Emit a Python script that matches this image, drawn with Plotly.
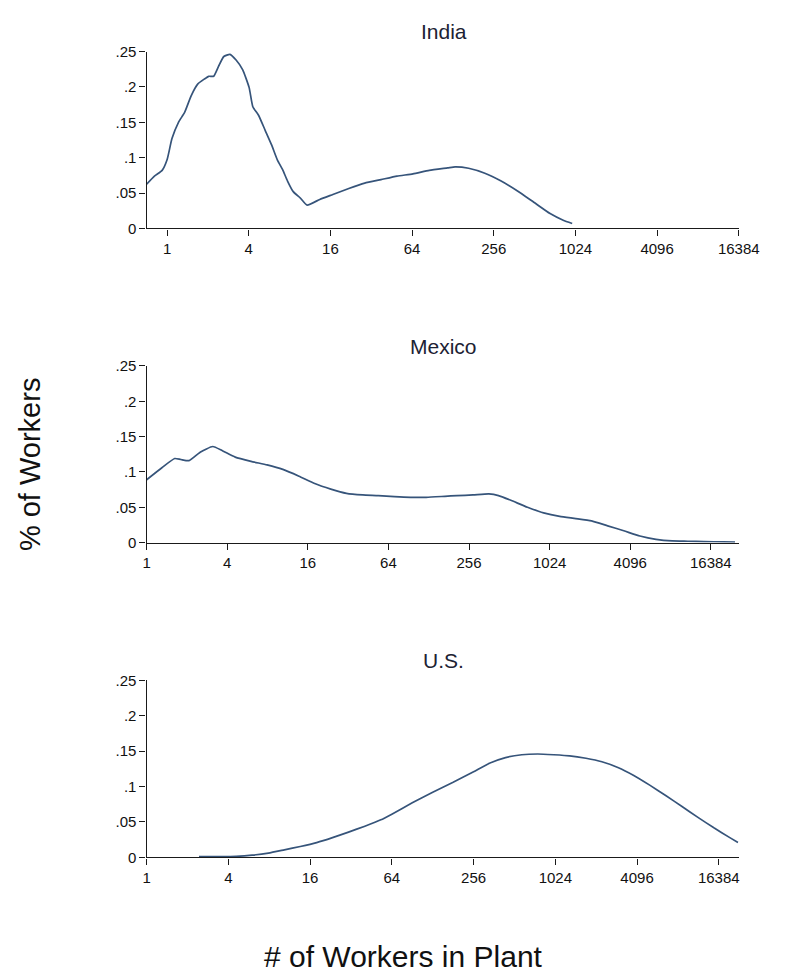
import math
import plotly.graph_objects as go

# ---------------- data ----------------
india_workers = [0.707, 0.807, 0.92, 1.0, 1.087, 1.214, 1.347, 1.505, 1.682, 1.879,
                 2.028, 2.204, 2.395, 2.621, 2.908, 3.227, 3.605, 4.028, 4.287, 4.724,
                 5.278, 5.897, 6.498, 7.111, 7.727, 8.514, 9.646, 10.78, 13.36, 16.68,
                 21.86, 28.64, 37.79, 49.52, 64.9, 85.6, 117, 133, 167, 220, 290, 383,
                 505, 666, 832, 969]
india_share = [0.0625, 0.074, 0.082, 0.097, 0.127, 0.150, 0.164, 0.1875, 0.204, 0.211,
               0.215, 0.215, 0.229, 0.243, 0.246, 0.238, 0.2245, 0.199, 0.172, 0.160,
               0.139, 0.118, 0.097, 0.083, 0.067, 0.052, 0.0426, 0.033, 0.041, 0.048,
               0.0565, 0.064, 0.069, 0.074, 0.077, 0.082, 0.0855, 0.087, 0.085, 0.078,
               0.067, 0.053, 0.037, 0.021, 0.0116, 0.007]

mexico_workers = [1.0, 1.30, 1.62, 1.80, 2.07, 2.51, 3.12, 3.68, 4.59, 6.02, 7.94,
                  10.41, 13.74, 18.0, 23.75, 31.1, 41.1, 53.8, 71.0, 93.7, 122.8,
                  168.9, 208, 274, 360, 425, 530, 699, 923, 1218, 1607, 2105, 2778,
                  3665, 4837, 6382, 8422, 11036, 14563, 20306, 24834]
mexico_share = [0.089, 0.106, 0.119, 0.1176, 0.116, 0.128, 0.136, 0.130, 0.121, 0.115,
                0.110, 0.1036, 0.094, 0.0836, 0.0757, 0.0697, 0.0674, 0.0665, 0.065,
                0.064, 0.064, 0.0655, 0.0665, 0.0674, 0.0688, 0.0665, 0.0595, 0.050,
                0.042, 0.037, 0.034, 0.0307, 0.0237, 0.0167, 0.0093, 0.0046, 0.0023,
                0.0019, 0.0014, 0.0009, 0.0006]

us_workers = [2.43, 3.48, 4.56, 5.98, 7.89, 10.34, 13.55, 17.88, 23.4, 30.7, 40.5,
              53.1, 64.0, 90.5, 128, 181, 256, 335, 440, 580, 760, 996, 1305, 1722,
              2256, 2957, 3875, 5077, 6700, 8780, 11505, 15075, 19755, 22690]
us_share = [0.001, 0.001, 0.0014, 0.003, 0.006, 0.0106, 0.0153, 0.0208, 0.0278, 0.0356,
            0.044, 0.053, 0.061, 0.077, 0.092, 0.106, 0.121, 0.133, 0.141, 0.145,
            0.146, 0.145, 0.1435, 0.140, 0.135, 0.127, 0.1157, 0.102, 0.087, 0.0718,
            0.0565, 0.0417, 0.0278, 0.0208]

panel_titles = ["India", "Mexico", "U.S."]
x_tick_vals = [1, 4, 16, 64, 256, 1024, 4096, 16384]
x_tick_text = ["1", "4", "16", "64", "256", "1024", "4096", "16384"]
y_tick_vals = [0, 0.05, 0.1, 0.15, 0.2, 0.25]
y_tick_text = ["0", ".05", ".1", ".15", ".2", ".25"]
x_ranges_workers = [(0.7071, 16384), (1, 26500), (1, 23000)]

# ---------------- layout geometry (pixels) ----------------
W, H = 790, 979
LEFT, RIGHT = 147.3, 758.8
panel_px = [(43.3, 223.3), (363.3, 543.0), (683.3, 863.3)]  # (top, bottom)

FONT = "Liberation Sans, Arial, sans-serif"
LINE = "#36547a"
AX = "#1a1a1a"

fig = go.Figure()
series = [(india_workers, india_share), (mexico_workers, mexico_share), (us_workers, us_share)]
annotations = []
for i, (xs, ys) in enumerate(series):
    n = "" if i == 0 else str(i + 1)
    fig.add_trace(go.Scatter(x=xs, y=ys, mode="lines", xaxis="x" + n, yaxis="y" + n,
                             line=dict(color=LINE, width=1.7, shape="spline", smoothing=0.5),
                             showlegend=False, hoverinfo="skip"))
    top, bot = panel_px[i]
    lo, hi = x_ranges_workers[i]
    xa = dict(type="log", range=[math.log10(lo), math.log10(hi)],
              domain=[LEFT / W, RIGHT / W], anchor="y" + n,
              tickvals=x_tick_vals, ticktext=x_tick_text,
              ticks="outside", ticklen=6, tickwidth=1.3, tickcolor=AX,
              showline=True, linecolor=AX, linewidth=1.4, showgrid=False,
              zeroline=False, tickfont=dict(family=FONT, size=15, color="#111"))
    ya = dict(range=[0, 0.25], domain=[1 - bot / H, 1 - top / H], anchor="x" + n,
              tickvals=y_tick_vals, ticktext=y_tick_text,
              ticks="outside", ticklen=6, tickwidth=1.3, tickcolor=AX,
              showline=True, linecolor=AX, linewidth=1.4, showgrid=False,
              zeroline=False, tickfont=dict(family=FONT, size=15, color="#111"))
    fig.update_layout(**{"xaxis" + n: xa, "yaxis" + n: ya})
    annotations.append(dict(text=panel_titles[i], x=454 / W, y=1 - (top - 20) / H,
                            xref="paper", yref="paper", showarrow=False,
                            xanchor="center", yanchor="middle",
                            font=dict(family=FONT, size=21, color="#1c2233")))

annotations.append(dict(text="% of Workers", x=27 / W, y=1 - 463 / H, xref="paper",
                        yref="paper", showarrow=False, textangle=-90,
                        xanchor="center", yanchor="middle",
                        font=dict(family=FONT, size=29, color="#111")))
annotations.append(dict(text="# of Workers in Plant", x=413 / W, y=1 - 964 / H,
                        xref="paper", yref="paper", showarrow=False,
                        xanchor="center", yanchor="middle",
                        font=dict(family=FONT, size=30, color="#111")))

fig.update_layout(width=W, height=H, autosize=False,
                  margin=dict(l=0, r=0, t=0, b=0),
                  paper_bgcolor="white", plot_bgcolor="white",
                  annotations=annotations)

fig.write_html("out.html", config={"displayModeBar": False},
               post_script="document.body.style.margin='0px';")
